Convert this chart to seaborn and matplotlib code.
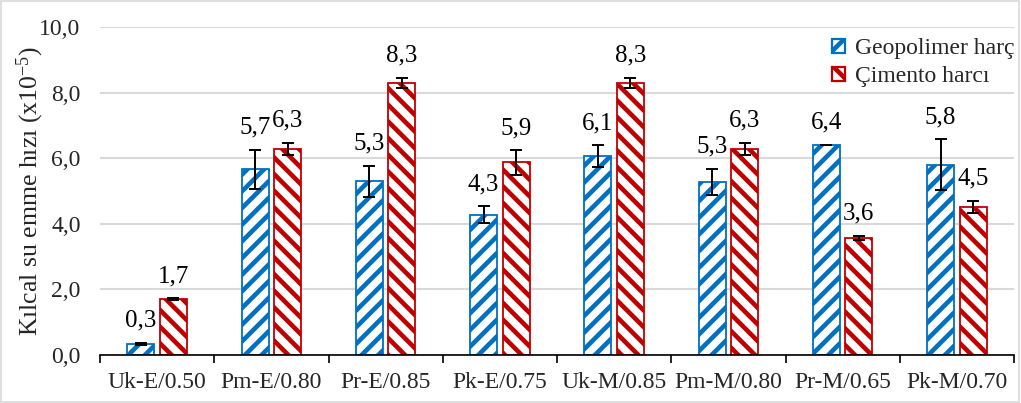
import numpy as np
import pandas as pd
import matplotlib
matplotlib.use("Agg")
import matplotlib.pyplot as plt
import seaborn as sns
from matplotlib.patches import Patch, Rectangle

# ---- data ----
categories = ["Uk-E/0.50", "Pm-E/0.80", "Pr-E/0.85", "Pk-E/0.75",
              "Uk-M/0.85", "Pm-M/0.80", "Pr-M/0.65", "Pk-M/0.70"]
series = ["Geopolimer harç", "Çimento harcı"]
geo_values = [0.34, 5.66, 5.30, 4.28, 6.07, 5.28, 6.40, 5.80]
geo_errors = [0.04, 0.59, 0.47, 0.25, 0.33, 0.39, 0.01, 0.78]
cim_values = [1.71, 6.29, 8.30, 5.87, 8.30, 6.29, 3.57, 4.52]
cim_errors = [0.02, 0.18, 0.15, 0.37, 0.15, 0.18, 0.06, 0.18]
y_ticks = [0, 2, 4, 6, 8, 10]
y_label = "Kılcal su emme hızı (x10$^{-5}$)"

colors = ["#0070C0", "#C00000"]
hatches = ["//", "\\\\"]

sns.set_theme(style="white")
plt.rcParams["font.family"] = ["Liberation Serif", "DejaVu Serif"]
plt.rcParams["mathtext.fontset"] = "custom"
plt.rcParams["mathtext.rm"] = "Liberation Serif"
plt.rcParams["mathtext.it"] = "Liberation Serif:italic"
plt.rcParams["hatch.linewidth"] = 3.3

df = pd.DataFrame({
    "Numune": categories * 2,
    "Seri": [series[0]] * len(categories) + [series[1]] * len(categories),
    "Deger": geo_values + cim_values,
})
errs = {series[0]: geo_errors, series[1]: cim_errors}
vals = {series[0]: geo_values, series[1]: cim_values}

fig = plt.figure(figsize=(10.21, 4.03), dpi=100)
ax = fig.add_axes([100 / 1021, 1 - 355 / 403, 914 / 1021, 328 / 403])

sns.barplot(data=df, x="Numune", y="Deger", hue="Seri", order=categories,
            hue_order=series, palette=colors, saturation=1, width=0.57, gap=0.175,
            errorbar=None, legend=False, ax=ax, zorder=2)

# split bars by series: seaborn draws them hue level by hue level
bars_all = [p for p in ax.patches]
n = len(categories)
groups = {series[0]: bars_all[:n], series[1]: bars_all[n:2 * n]}

for s, c, h in zip(series, colors, hatches):
    for p in groups[s]:
        p.set_facecolor("white")
        p.set_edgecolor(c)
        p.set_hatch(h)
        p.set_linewidth(1.3)
    bars = sorted(groups[s], key=lambda p: p.get_x())
    xs = [p.get_x() + p.get_width() / 2 for p in bars]
    hs = [p.get_height() for p in bars]
    ax.errorbar(xs, hs, yerr=errs[s], fmt="none", ecolor="black",
                elinewidth=1.4, capsize=4.5, capthick=1.4, zorder=3)
    for x, v, e in zip(xs, vals[s], errs[s]):
        ax.annotate(f"{v:.1f}".replace(".", ","), (x, v + e),
                    xytext=(0, 8), textcoords="offset points",
                    ha="center", va="bottom", fontsize=18, color="black")

ax.set_ylim(0, 10)
ax.set_xlim(-0.5, len(categories) - 0.5)
ax.set_yticks(y_ticks)
ax.set_yticklabels([f"{t:.1f}".replace(".", ",") for t in y_ticks])
ax.yaxis.grid(True, color="#D9D9D9", linewidth=1.5, zorder=0)
ax.set_axisbelow(True)
ax.set_xlabel("")
ax.set_ylabel(y_label, fontsize=18.5, labelpad=-5)
for sp in ["top", "right", "left"]:
    ax.spines[sp].set_visible(False)
ax.spines["bottom"].set_color("black")
ax.spines["bottom"].set_linewidth(1.2)
ax.set_xticks(np.arange(-0.5, len(categories)), minor=True)
ax.tick_params(axis="x", which="minor", length=6, width=1.2, color="black",
               direction="out", bottom=True)
ax.tick_params(axis="x", which="major", length=0, pad=12, labelsize=17)
ax.tick_params(axis="y", length=0, pad=14, labelsize=17)

handles = [Patch(facecolor="white", edgecolor=c, hatch=h, linewidth=1.6)
           for c, h in zip(colors, hatches)]
fig.legend(handles, series, loc="upper right",
           bbox_to_anchor=(1014 / 1021, 1 - 38 / 403), frameon=False,
           fontsize=17, handlelength=0.55, handleheight=0.55,
           handletextpad=0.4, labelspacing=0.3, borderpad=0.0,
           borderaxespad=0.0)

fig.patches.append(Rectangle((0.001, 0.002), 0.997, 0.995, transform=fig.transFigure,
                             fill=False, edgecolor="#D9D9D9", linewidth=1.2))

fig.savefig("out.png", dpi=100)
